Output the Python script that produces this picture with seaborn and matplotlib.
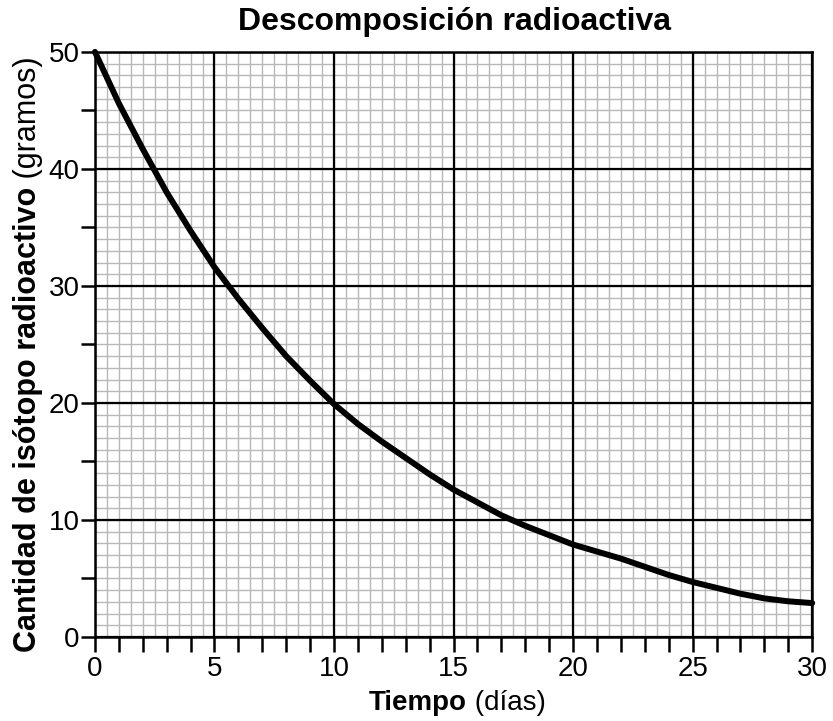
import numpy as np
import pandas as pd
import matplotlib
matplotlib.use("Agg")
import matplotlib.pyplot as plt
import seaborn as sns
from matplotlib.ticker import MultipleLocator

# Values
dias = [0, 1, 2, 3, 4, 5, 6, 7, 8, 9, 10, 11, 12, 13, 14, 15,
        16, 17, 18, 19, 20, 21, 22, 23, 24, 25, 26, 27, 28, 29, 30]
gramos = [50.0, 45.6, 41.7, 38.0, 34.7, 31.6, 28.9, 26.4, 24.0, 21.9, 19.9,
          18.2, 16.7, 15.3, 13.9, 12.6, 11.5, 10.4, 9.5, 8.7, 7.9,
          7.3, 6.7, 6.0, 5.3, 4.7, 4.2, 3.7, 3.3, 3.05, 2.9]

titulo = "Descomposición radioactiva"
ylab_bold = "Cantidad de isótopo radioactivo"
ylab_norm = " (gramos)"
xlab_bold = "Tiempo"
xlab_norm = " (días)"

sns.set_theme(style="white")
plt.rcParams['font.family'] = ['Liberation Sans', 'DejaVu Sans']
plt.rcParams['text.color'] = 'black'
plt.rcParams['xtick.color'] = 'black'
plt.rcParams['ytick.color'] = 'black'

df = pd.DataFrame({"dias": dias, "gramos": gramos})

fig = plt.figure(figsize=(8.33, 7.21), dpi=100)
ax = fig.add_axes([0.114, 0.1165, 0.861, 0.8115])

# graph paper: fine grey lines, then heavy black lines on top
for xv in np.arange(0, 30.01, 0.5):
    ax.axvline(xv, color="#b8b8b8", lw=1.0, zorder=0.5)
for yv in np.arange(0, 50.01, 1):
    ax.axhline(yv, color="#b8b8b8", lw=1.0, zorder=0.5)
for xv in np.arange(0, 30.01, 5):
    ax.axvline(xv, color="black", lw=1.6, zorder=1)
for yv in np.arange(0, 50.01, 10):
    ax.axhline(yv, color="black", lw=1.6, zorder=1)

sns.lineplot(data=df, x="dias", y="gramos", color="black", linewidth=4.3,
             ax=ax, clip_on=False, zorder=5)

ax.set_xlim(0, 30)
ax.set_ylim(0, 50)
for s in ax.spines.values():
    s.set_color("black")
    s.set_linewidth(1.8)
    s.set_zorder(2)

ax.set_xticks(np.arange(0, 31, 5))
ax.set_yticks(np.arange(0, 51, 10))
ax.xaxis.set_minor_locator(MultipleLocator(1))
ax.yaxis.set_minor_locator(MultipleLocator(5))
ax.tick_params(axis="x", which="both", direction="out", length=10.8,
               width=1.8, bottom=True)
ax.tick_params(axis="y", which="both", direction="out", length=10,
               width=1.8, left=True)
ax.tick_params(axis="x", which="major", labelsize=20, pad=3)
ax.tick_params(axis="y", which="major", labelsize=20, pad=1)
ax.set_xlabel("")
ax.set_ylabel("")

fig.text(0.546, 0.969, titulo, ha="center", va="center",
         fontsize=23, fontweight="bold")

# mixed-weight axis labels
fig.canvas.draw()
r = fig.canvas.get_renderer()
W = fig.bbox.width
H = fig.bbox.height

tb = fig.text(0, 0, xlab_bold, fontsize=20, fontweight="bold")
tn = fig.text(0, 0, xlab_norm, fontsize=20)
wb = tb.get_window_extent(r).width
wn = tn.get_window_extent(r).width
x0 = (457 - (wb + wn) / 2) / W
yb = 1 - 703 / 721
tb.set_position((x0, yb))
tb.set_va("center")
tn.set_position((x0 + wb / W, yb))
tn.set_va("center")

lb = fig.text(0, 0, ylab_bold, fontsize=22, fontweight="bold", rotation=90)
ln = fig.text(0, 0, ylab_norm, fontsize=22, rotation=90)
hb = lb.get_window_extent(r).height
hn = ln.get_window_extent(r).height
y0 = (1 - 354 / 721) - (hb + hn) / 2 / H
xl = 28 / W
lb.set_position((xl, y0))
lb.set_ha("center")
lb.set_va("bottom")
ln.set_position((xl, y0 + hb / H))
ln.set_ha("center")
ln.set_va("bottom")

fig.savefig("out.png", dpi=100)
